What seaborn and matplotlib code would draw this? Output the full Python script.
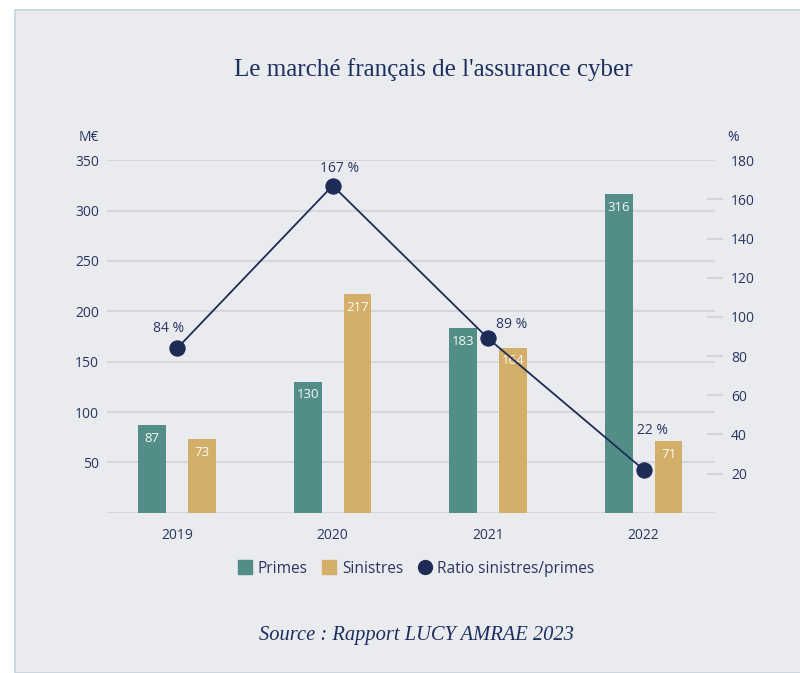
import numpy as np
import pandas as pd
import matplotlib.pyplot as plt
import seaborn as sns
from matplotlib.patches import Rectangle
from matplotlib.lines import Line2D

# données (M€ et %)
annees = ["2019", "2020", "2021", "2022"]
primes = [87, 130, 183, 316]
sinistres = [73, 217, 164, 71]
ratio = [84, 167, 89, 22]
ticks_gauche = [50, 100, 150, 200, 250, 300, 350]
ticks_droite = [20, 40, 60, 80, 100, 120, 140, 160, 180]

teal = "#528d87"
tan = "#d3af69"
navy = "#1f2b57"
texte = "#2b3561"
fond = "#e9ebef"
grille = "#d2d4d8"

df = pd.DataFrame({"annee": annees * 2,
                   "montant": primes + sinistres,
                   "type": ["Primes"] * 4 + ["Sinistres"] * 4})

sns.set_theme(style="white")
plt.rcParams["font.family"] = ["Open Sans", "DejaVu Sans"]

fig = plt.figure(figsize=(8, 6.73), dpi=100, facecolor="white")
fig.patches.append(Rectangle((15 / 800, 0), 1, 1 - 10 / 673, transform=fig.transFigure,
                             facecolor=fond, edgecolor="#c5d3dc", linewidth=1.2, zorder=-5))

ax = fig.add_axes([0.134, 0.238, 0.76, 0.524])
ax.set_facecolor("none")
sns.barplot(data=df, x="annee", y="montant", hue="type", palette=[teal, tan],
            width=0.64, gap=0.44, ax=ax, legend=False, saturation=1, linewidth=0)
ax.set_xlim(-0.45, 3.46)
ax.set_ylim(0, 350)
ax.set_yticks(ticks_gauche)
ax.set_axisbelow(True)
ax.grid(axis="y", color=grille, linewidth=1.3)
ax.axhline(0, color=grille, linewidth=2, zorder=0.5)
for s in ax.spines.values():
    s.set_visible(False)
ax.set_xlabel("")
ax.set_ylabel("")
ax.tick_params(axis="y", length=0, pad=6, labelsize=10, labelcolor=texte)
ax.tick_params(axis="x", length=0, pad=11, labelsize=10, labelcolor=texte)
ax.set_xticks([0.5, 1.5, 2.5], minor=True)
ax.tick_params(axis="x", which="minor", direction="in", length=5, width=1.2, color="#c9cbcf")

for cont in ax.containers:
    ax.bar_label(cont, padding=-14, color="white", fontsize=9.5, alpha=0.95)

ax.annotate("M€", xy=(-0.03, 1.065), xycoords="axes fraction", ha="center", va="center",
            fontsize=10, color=texte)
ax.annotate("%", xy=(1.03, 1.065), xycoords="axes fraction", ha="center", va="center",
            fontsize=10, color=texte)

ax2 = ax.twinx()
sns.lineplot(x=np.arange(len(annees)), y=ratio, color=navy, linewidth=1.3, marker="o",
             markersize=11, markeredgecolor=navy, ax=ax2)
ax2.set_ylim(0, 180)
ax2.set_yticks(ticks_droite)
for s in ax2.spines.values():
    s.set_visible(False)
ax2.tick_params(axis="y", direction="inout", length=11, width=1.2, color="#cfd1d5",
                pad=6, labelsize=10, labelcolor=texte)
ax2.yaxis.get_major_ticks()[-1].tick2line.set_visible(False)
ax2.grid(False)

decalages = [(-6, 14), (5, 12), (17, 10), (6, 28)]
for i, (v, d) in enumerate(zip(ratio, decalages)):
    ax2.annotate(f"{v} %", xy=(i, v), xytext=d, textcoords="offset points",
                 ha="center", va="center", fontsize=10, color=texte)

fig.text(0.542, 0.896, "Le marché français de l'assurance cyber", ha="center", va="center",
         fontsize=18, color="#1d2f5e", family="Liberation Serif")

handles = [Line2D([], [], marker="s", linestyle="", color=teal, markersize=10),
           Line2D([], [], marker="s", linestyle="", color=tan, markersize=10),
           Line2D([], [], marker="o", linestyle="", color=navy, markersize=10)]
fig.legend(handles, ["Primes", "Sinistres", "Ratio sinistres/primes"], loc="center",
           bbox_to_anchor=(0.52, 0.155), ncol=3, frameon=False, fontsize=11.2,
           labelcolor=texte, handletextpad=0.3, columnspacing=0.9, handlelength=1)

fig.text(0.52, 0.056, "Source : Rapport LUCY AMRAE 2023", ha="center", va="center",
         fontsize=14.8, style="italic", color="#1d2f5e", family="Liberation Serif")

fig.savefig("out.png", dpi=100, facecolor="white")
